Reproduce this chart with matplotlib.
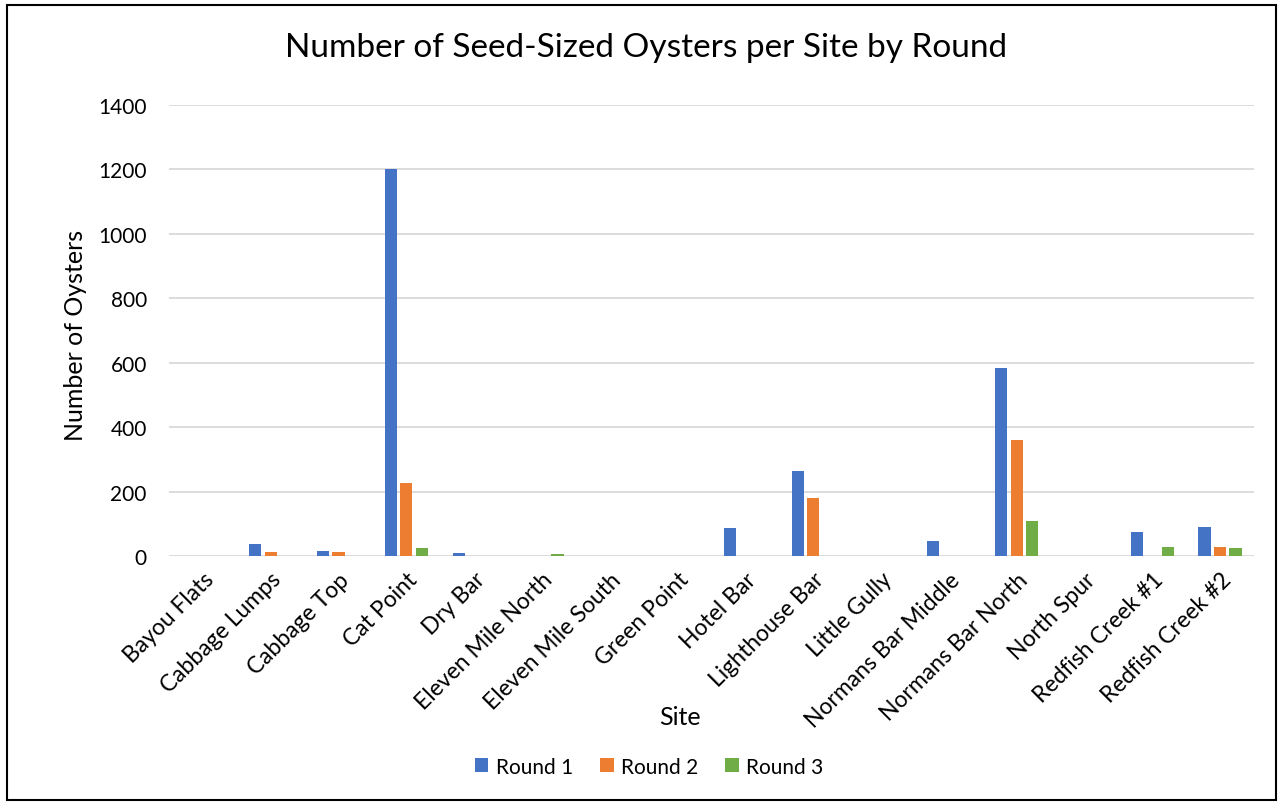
import matplotlib.pyplot as plt
import matplotlib.patches as patches
import numpy as np

plt.rcParams['font.family'] = ['Lato', 'DejaVu Sans']

sites = ['Bayou Flats', 'Cabbage Lumps', 'Cabbage Top', 'Cat Point', 'Dry Bar',
         'Eleven Mile North', 'Eleven Mile South', 'Green Point', 'Hotel Bar',
         'Lighthouse Bar', 'Little Gully', 'Normans Bar Middle', 'Normans Bar North',
         'North Spur', 'Redfish Creek #1', 'Redfish Creek #2']
round1 = [0, 36, 15, 1200, 9, 0, 0, 0, 86, 264, 1, 47, 584, 0, 73, 91]
round2 = [0, 12, 12, 226, 0, 0, 0, 0, 0, 179, 0, 0, 360, 0, 1, 28]
round3 = [0, 0, 1, 24, 0, 5, 1, 0, 0, 1, 0, 0, 107, 0, 28, 26]
series = ['Round 1', 'Round 2', 'Round 3']
colors = ['#4472C4', '#ED7D31', '#70AD47']

fig = plt.figure(figsize=(12.84, 8.03), dpi=100)
ax = fig.add_axes([0.1316, 0.3064, 0.845, 0.5616])

x = np.arange(len(sites))
step = 0.228
for i, (vals, name, c) in enumerate(zip([round1, round2, round3], series, colors)):
    ax.bar(x + (i - 1) * step, vals, width=0.18, color=c, label=name, zorder=3)

ax.set_xlim(-0.5, len(sites) - 0.5)
ax.set_ylim(0, 1400)
ax.set_yticks(range(0, 1401, 200))
ax.grid(axis='y', color='#d9d9d9', linewidth=1.3, zorder=0)
for s in ax.spines.values():
    s.set_visible(False)
ax.tick_params(axis='y', length=0, labelsize=15, pad=16, colors='black')
ax.set_xticks(x)
ax.set_xticklabels(sites, rotation=45, ha='right', va='top', rotation_mode='anchor')
ax.tick_params(axis='x', length=0, labelsize=16.5, pad=9, colors='black')

ax.set_ylabel('Number of Oysters', fontsize=18)
ax.yaxis.set_label_coords(-0.0756, 0.492)
fig.text(0.5295, 0.106, 'Site', fontsize=18, ha='center', va='center')
fig.text(0.503, 0.94, 'Number of Seed-Sized Oysters per Site by Round',
         fontsize=24, ha='center', va='center')

ax.legend(loc='center', bbox_to_anchor=(0.5055, 0.044), bbox_transform=fig.transFigure,
          ncol=3, frameon=False, fontsize=15, handlelength=0.65, handleheight=0.65,
          handletextpad=0.35, columnspacing=1.3)

# outer frame around the chart
fig.patches.append(patches.Rectangle((0.0055, 0.003), 0.988, 0.99, transform=fig.transFigure,
                                     fill=False, edgecolor='black', linewidth=1.5))

fig.savefig('out.png', dpi=100)
